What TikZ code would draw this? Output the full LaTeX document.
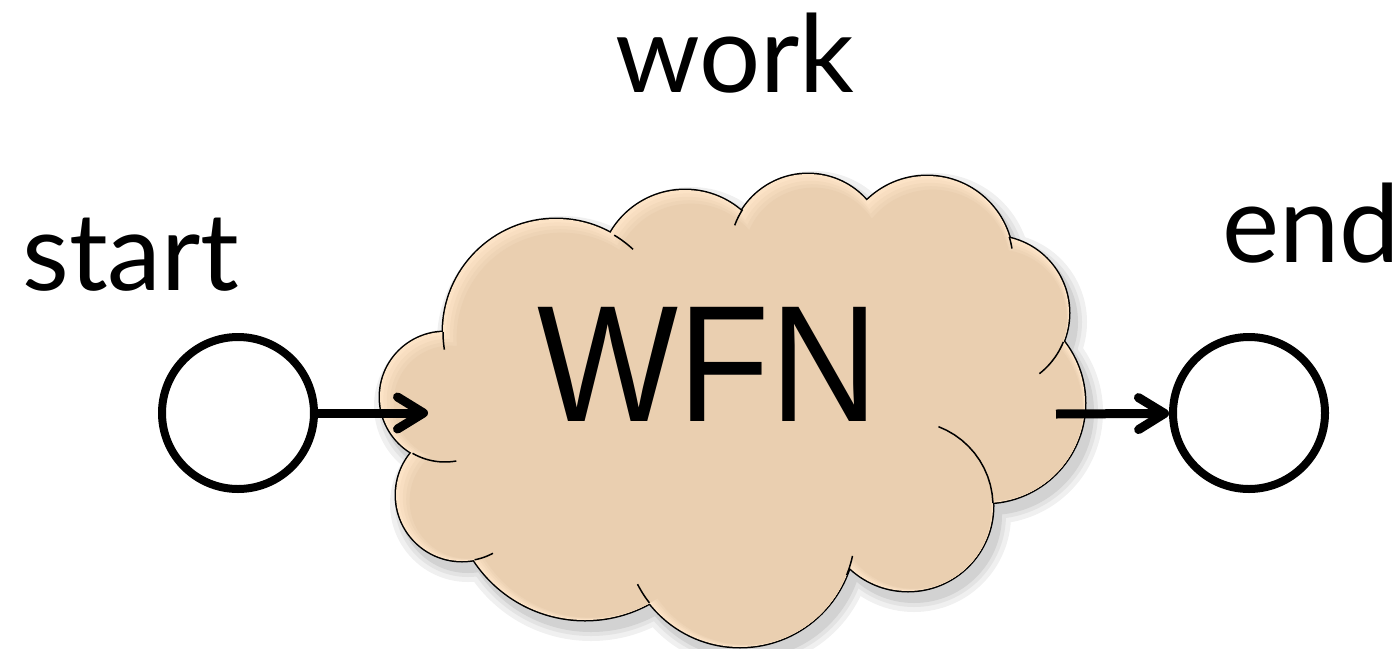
\documentclass[tikz,border=0pt]{standalone}
\usepackage{fontspec}
\setmainfont{Lato}
\newfontfamily\wfnfont[FakeStretch=0.9]{Liberation Sans}
\usepackage{tikz}
\usetikzlibrary{arrows.meta}

\definecolor{cloudfill}{RGB}{234,207,176}
\definecolor{cloudlight}{RGB}{252,227,198}

% bumps of the cloud: x/y/radius
\def\bumps{556/332/113, 685/276/86, 808/252/78, 927/262/86, 992/313/77, 985/403/100, 908/506/85, 740/532/115, 585/487/133, 462/495/66, 445/397/65}

\begin{document}
\begin{tikzpicture}[x=1pt, y=-1pt,
    place/.style={circle, draw, line width=8pt, minimum size=152pt, inner sep=0pt},
    arrowline/.style={line width=9pt, -{Straight Barb[length=26pt, width=32pt, round]}},
    txt/.style={font=\fontsize{108}{110}\selectfont, anchor=base},
    tail/.style={line width=1.5pt},
  ]
  \useasboundingbox (0,0) rectangle (1399,648);

  % shadow
  \foreach \g/\c in {12/gray!12, 7/gray!22, 3/gray!35}
    \foreach \cx/\cy/\r in \bumps
      \fill[\c] (\cx+6,\cy+9) circle[radius=\r+\g];

  % outline and fill of the cloud
  \foreach \cx/\cy/\r in \bumps
    \draw[line width=3pt] (\cx,\cy) circle[radius=\r];
  \foreach \cx/\cy/\r in \bumps
    \fill[cloudlight] (\cx,\cy) circle[radius=\r];
  \foreach \k in {1,...,4}
    \foreach \cx/\cy/\r in \bumps
      \fill[cloudfill!\the\numexpr 25*\k\relax!cloudlight] (\cx+1.41*\k,\cy+1.41*\k) circle[radius=\r-2*\k];
  \fill[cloudfill] (556,332) \foreach \cx/\cy/\r in \bumps {-- (\cx,\cy)} -- cycle;

  % inner ends of the bumps
  \foreach \cx/\cy/\r/\a/\b in {556/332/113/-59/-47, 556/332/113/180/171, 808/252/78/-147/-160,
      927/262/86/-17/-9, 992/313/77/22/52, 908/506/85/-2/-69, 740/532/115/22/12,
      740/532/115/142/153, 462/495/66/79/62, 445/397/65/120/80}
    \draw[tail] plot[domain=\a:\b, samples=12] ({\cx+\r*cos(\x)},{\cy+\r*sin(\x)});

  \node[font=\wfnfont\fontsize{166}{170}\selectfont, anchor=base] (wfn) at (708,421) {WFN};

  % places
  \node[place] (pstart) at (238,413) {};
  \node[place] (pend) at (1249,413) {};
  \coordinate (win) at (428,413);
  \coordinate (wout) at (1056,414);
  \draw[arrowline] (pstart) -- (win);
  \draw[arrowline] (wout) -- (pend);

  % labels
  \node[txt] (lwork) at (735,92) {work};
  \node[txt] (lstart) at (131,290) {start};
  \node[txt] (lend) at (1311,262) {end};
\end{tikzpicture}
\end{document}
